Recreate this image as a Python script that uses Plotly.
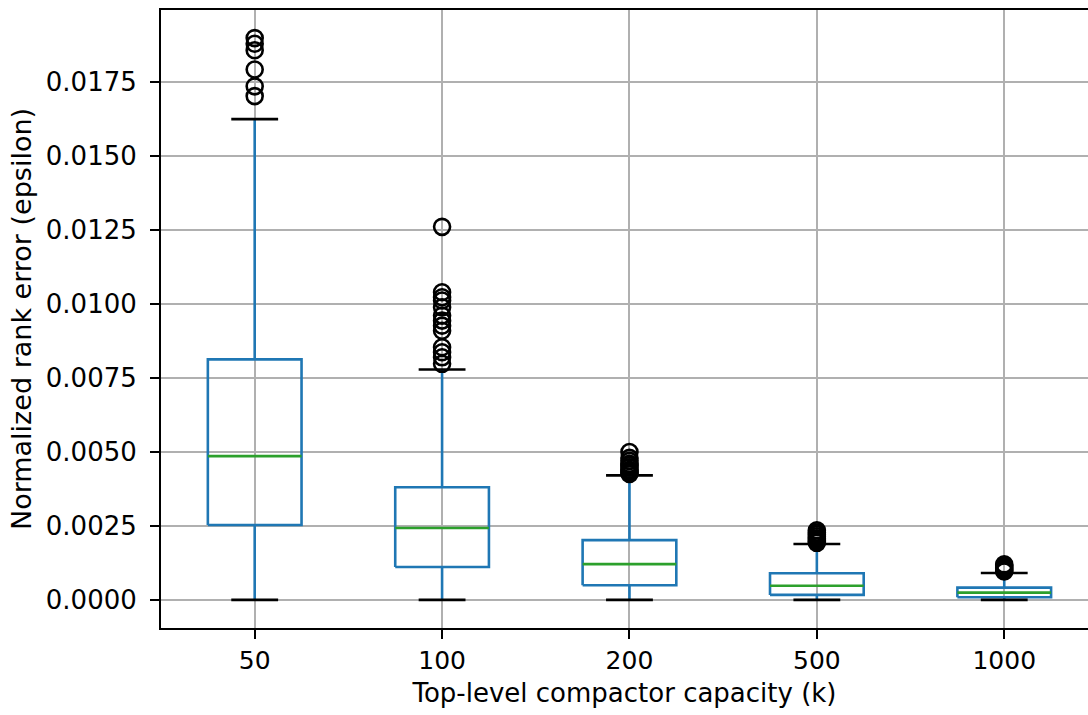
import plotly.graph_objects as go

categories = ["50", "100", "200", "500", "1000"]
q1 = [0.00253, 0.00111, 0.000495, 0.000169, 0.00009]
median = [0.00486, 0.00243, 0.00121, 0.00048, 0.000246]
q3 = [0.00813, 0.00381, 0.00202, 0.00090, 0.000415]
whisker_low = [0.0, 0.0, 0.0, 0.0, 0.0]
whisker_high = [0.01625, 0.00779, 0.00421, 0.00189, 0.00091]
fliers = [
    [0.01899, 0.01880, 0.01858, 0.01793, 0.01736, 0.01703],
    [0.01261, 0.01040, 0.01023, 0.01012, 0.00989, 0.00961, 0.00944, 0.00927,
     0.00910, 0.00854, 0.00837, 0.00820, 0.00798],
    [0.00500, 0.00480, 0.00470, 0.00460, 0.00455, 0.00448, 0.00440, 0.00435,
     0.00430, 0.00426],
    [0.00235, 0.00228, 0.00222, 0.00215, 0.00208, 0.00202, 0.00197, 0.00193],
    [0.00120, 0.00115, 0.00110, 0.00105, 0.00100, 0.00096],
]
y_ticks = [0.0, 0.0025, 0.005, 0.0075, 0.01, 0.0125, 0.015, 0.0175]

BOX_HALF = 0.25
CAP_HALF = 0.125
BLUE = "#1f77b4"
GREEN = "#2ca02c"

wx, wy, bx, by, mx, my, cx, cy, fx, fy = ([] for _ in range(10))
for i in range(len(categories)):
    p = i + 1
    wx += [p, p, None, p, p, None]
    wy += [whisker_low[i], q1[i], None, q3[i], whisker_high[i], None]
    bx += [p - BOX_HALF, p + BOX_HALF, p + BOX_HALF, p - BOX_HALF, p - BOX_HALF, None]
    by += [q1[i], q1[i], q3[i], q3[i], q1[i], None]
    mx += [p - BOX_HALF, p + BOX_HALF, None]
    my += [median[i], median[i], None]
    cx += [p - CAP_HALF, p + CAP_HALF, None, p - CAP_HALF, p + CAP_HALF, None]
    cy += [whisker_low[i], whisker_low[i], None, whisker_high[i], whisker_high[i], None]
    fx += [p] * len(fliers[i])
    fy += fliers[i]

LW = 2.6
fig = go.Figure()
fig.add_trace(go.Scatter(x=wx, y=wy, mode="lines", line=dict(color=BLUE, width=LW), hoverinfo="skip"))
fig.add_trace(go.Scatter(x=bx, y=by, mode="lines", line=dict(color=BLUE, width=LW), hoverinfo="skip"))
fig.add_trace(go.Scatter(x=mx, y=my, mode="lines", line=dict(color=GREEN, width=LW), hoverinfo="skip"))
fig.add_trace(go.Scatter(x=cx, y=cy, mode="lines", line=dict(color="black", width=LW), hoverinfo="skip"))
fig.add_trace(go.Scatter(x=fx, y=fy, mode="markers",
                         marker=dict(symbol="circle-open", size=16, color="black",
                                     line=dict(color="black", width=2.6)),
                         hoverinfo="skip"))

x_tick_font = dict(family="DejaVu Sans", size=25, color="black")
y_tick_font = dict(family="DejaVu Sans", size=26, color="black")
x_title_font = dict(family="DejaVu Sans", size=26, color="black")
y_title_font = dict(family="DejaVu Sans", size=27, color="black")
fig.update_layout(
    width=1088, height=715,
    margin=dict(l=161, r=0, t=10, b=87),
    paper_bgcolor="white", plot_bgcolor="white",
    showlegend=False,
    font=y_tick_font,
    xaxis=dict(
        range=[0.5, 5.447],
        tickvals=[1, 2, 3, 4, 5], ticktext=categories,
        showgrid=True, gridcolor="#b0b0b0", gridwidth=1.8,
        showline=True, linecolor="black", linewidth=2, mirror=True,
        ticks="outside", ticklen=9, tickwidth=1.8, tickcolor="black",
        zeroline=False,
        title=dict(text="Top-level compactor capacity (k)", font=x_title_font, standoff=10),
        tickfont=x_tick_font,
    ),
    yaxis=dict(
        range=[-0.00095, 0.01994],
        tickvals=y_ticks, tickformat=".4f",
        showgrid=True, gridcolor="#b0b0b0", gridwidth=1.8,
        showline=True, linecolor="black", linewidth=2, mirror=False,
        ticks="outside", ticklen=9, tickwidth=1.8, tickcolor="black",
        zeroline=False, ticklabelstandoff=8,
        title=dict(text="Normalized rank error (epsilon)", font=y_title_font, standoff=6),
        tickfont=y_tick_font,
    ),
)
fig.write_html("out.html")
